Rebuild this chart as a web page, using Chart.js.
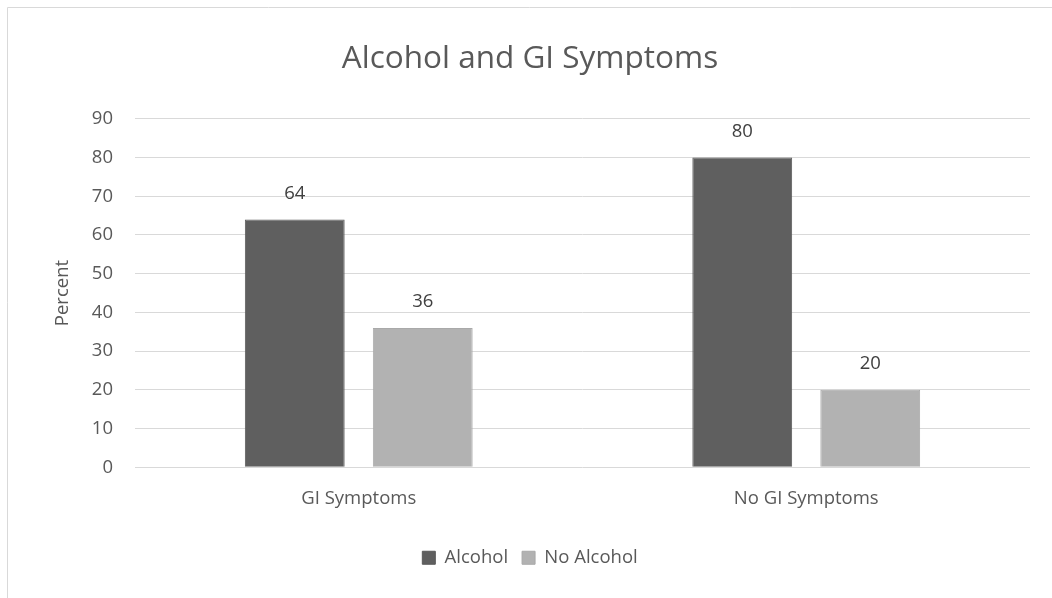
<!DOCTYPE html>
<html>
<head>
<meta charset="utf-8">
<script src="https://cdn.jsdelivr.net/npm/chart.js@4"></script>
<style>
  html, body { margin: 0; padding: 0; background: #fff; }
  #wrap { width: 1052px; height: 598px; position: relative; }
</style>
</head>
<body>
<div id="wrap"><canvas id="chart"></canvas></div>
<script>
const categories = ["GI Symptoms", "No GI Symptoms"];
const alcohol = [64, 80];
const noAlcohol = [36, 20];
const yTicks = [0, 10, 20, 30, 40, 50, 60, 70, 80, 90];

const textColor = "#595959";
const font = "'Open Sans', 'Noto Sans', sans-serif";

// frame around the chart (only left/top edges show in the picture)
const framePlugin = {
  id: "frame",
  beforeDraw(chart) {
    const ctx = chart.ctx;
    ctx.save();
    ctx.strokeStyle = "#d9d9d9";
    ctx.lineWidth = 1;
    ctx.beginPath();
    ctx.moveTo(7.5, chart.height);
    ctx.lineTo(7.5, 7.5);
    ctx.lineTo(chart.width, 7.5);
    ctx.stroke();
    ctx.restore();
  },
};

// value labels above the bars
const valueLabels = {
  id: "valueLabels",
  afterDatasetsDraw(chart) {
    const ctx = chart.ctx;
    ctx.save();
    ctx.fillStyle = "#404040";
    ctx.font = "18.5px " + font;
    ctx.textAlign = "center";
    ctx.textBaseline = "middle";
    chart.data.datasets.forEach((ds, i) => {
      chart.getDatasetMeta(i).data.forEach((bar, j) => {
        ctx.fillText(ds.data[j], bar.x, bar.y - 26);
      });
    });
    ctx.restore();
  },
};

new Chart(document.getElementById("chart"), {
  type: "bar",
  data: {
    labels: categories,
    datasets: [
      {
        label: "Alcohol",
        data: alcohol,
        backgroundColor: "#5f5f5f",
        borderColor: "#5a5a5a",
        borderWidth: 1,
        categoryPercentage: 0.572,
        barPercentage: 0.78,
      },
      {
        label: "No Alcohol",
        data: noAlcohol,
        backgroundColor: "#b2b2b2",
        borderColor: "#a9a9a9",
        borderWidth: 1,
        categoryPercentage: 0.572,
        barPercentage: 0.78,
      },
    ],
  },
  options: {
    responsive: true,
    maintainAspectRatio: false,
    animation: false,
    layout: {
      padding: { left: 30, right: 22, top: 0, bottom: 21 },
    },
    scales: {
      x: {
        grid: { display: false, drawTicks: false },
        border: { display: false },
        afterFit(scale) {
          scale.height += 5;
        },
        ticks: {
          color: textColor,
          font: { family: font, size: 18.5 },
          padding: 20,
        },
      },
      y: {
        min: 0,
        max: 90,
        afterBuildTicks(scale) {
          scale.ticks = yTicks.map((v) => ({ value: v }));
        },
        afterFit(scale) {
          scale.width = 105;
        },
        grid: { color: "#d9d9d9", lineWidth: 1, drawTicks: false },
        border: { display: false },
        ticks: {
          color: textColor,
          font: { family: font, size: 18.5 },
          padding: 22,
        },
        title: {
          display: true,
          text: "Percent",
          color: textColor,
          font: { family: font, size: 18.5 },
          padding: { top: 22, bottom: 0 },
        },
      },
    },
    plugins: {
      title: {
        display: true,
        text: "Alcohol and GI Symptoms",
        color: textColor,
        font: { family: font, size: 31.5, weight: "normal" },
        padding: { top: 40, bottom: 41 },
      },
      legend: {
        position: "bottom",
        labels: {
          color: textColor,
          font: { family: font, size: 18.5 },
          boxWidth: 13,
          boxHeight: 13,
          padding: 14,
        },
      },
      tooltip: { enabled: false },
    },
  },
  plugins: [framePlugin, valueLabels],
});
</script>
</body>
</html>
